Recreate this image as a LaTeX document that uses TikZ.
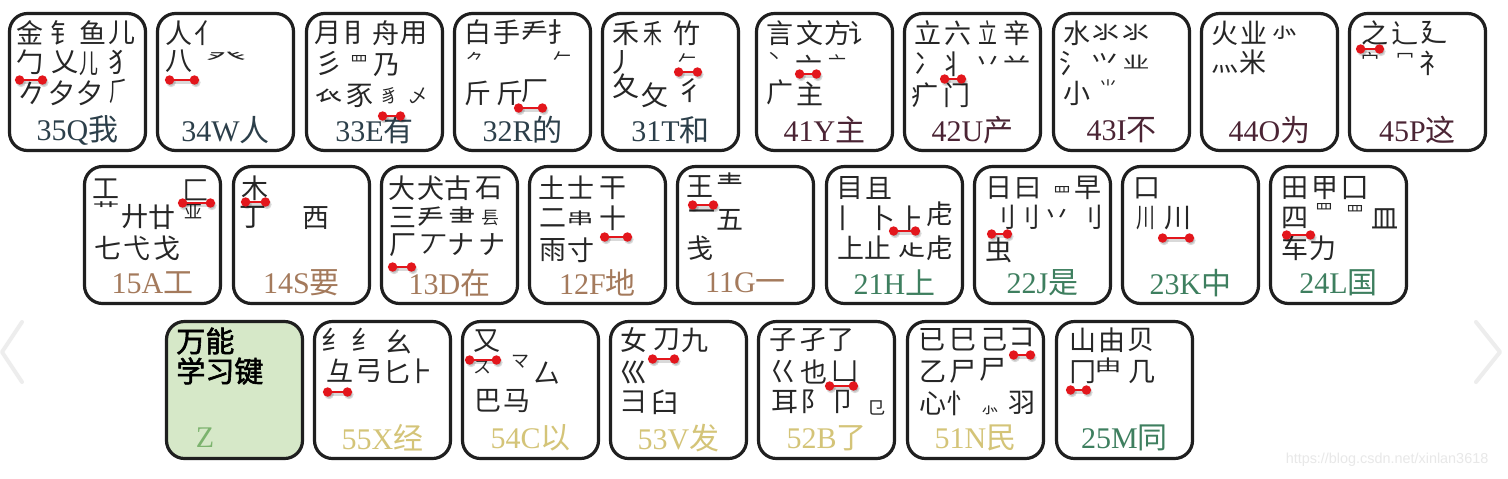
\documentclass[tikz,border=0pt]{standalone}
\usepackage{fontspec}
\usetikzlibrary{arrows.meta}
\newfontfamily\cjk{Noto Sans CJK SC}
\newfontfamily\cjkbold{Noto Sans CJK SC}[FakeBold=2]
\newfontfamily\lbfont{Liberation Serif}
\newfontfamily\wmfont{Liberation Sans}
\definecolor{zone1}{HTML}{A47A5C}
\definecolor{zone2}{HTML}{3E7F5F}
\definecolor{zone3}{HTML}{2C3F4A}
\definecolor{zone4}{HTML}{4B2434}
\definecolor{zone5}{HTML}{D4C478}
\definecolor{zgreen}{HTML}{7CB36E}
\definecolor{zfill}{HTML}{D6E8C8}
\definecolor{hlred}{HTML}{E3161C}

\begin{document}
\begin{tikzpicture}[x=0.5pt,y=-0.5pt,
  keybox/.style={draw=black!88,line width=1.6pt,rounded corners=9pt,minimum width=68pt,minimum height=68.5pt,inner sep=0pt},
  keylab/.style={font=\lbfont\fontsize{15}{15}\selectfont,inner sep=0pt},
  rt/.style={font=\cjk\fontsize{13.5}{13.5}\selectfont,text=black!85,inner sep=0pt},
  rs/.style={rt,font=\cjk\fontsize{9}{9}\selectfont},
  rn/.style={rt,xscale=0.7},
  rf/.style={rt,yscale=0.6},
  rw/.style={rt,xscale=1.5,yscale=0.55},
  hlbar/.style={draw=hlred,line width=1.4pt,{Circle[length=4.6pt]}-{Circle[length=4.6pt]}},
  hlshadow/.style={hlbar,draw=black,opacity=0.15},
  chev/.style={draw=black!7,line width=2pt,line cap=round,line join=round}]
\fill[white] (0,0) rectangle (1508,478);
\useasboundingbox (0,0) rectangle (1508,478);
\draw[chev] (22,322) -- (2,352) -- (22,382);
\draw[chev] (1476,322) -- (1500,352) -- (1476,382);
\foreach \kx/\ky/\k/\n/\ch/\col in {8/12/Q/35/我/zone3,156/12/W/34/人/zone3,305/12/E/33/有/zone3,453/12/R/32/的/zone3,601/12/T/31/和/zone3,
  755/12/Y/41/主/zone4,903/12/U/42/产/zone4,1052/12/I/43/不/zone4,1200/12/O/44/为/zone4,1348/12/P/45/这/zone4,
  83/165/A/15/工/zone1,232/165/S/14/要/zone1,380/165/D/13/在/zone1,528/165/F/12/地/zone1,676/165/G/11/一/zone1,
  825/165/H/21/上/zone2,973/165/J/22/是/zone2,1121/165/K/23/中/zone2,1269/165/L/24/国/zone2,
  313/320/X/55/经/zone5,461/320/C/54/以/zone5,609/320/V/53/发/zone5,757/320/B/52/了/zone5,906/320/N/51/民/zone5,1055/320/M/25/同/zone2}{
  \node[keybox] (key\k) at (\kx+69.5,\ky+70) {};
  \node[keylab,text=\col] (lab\k) at (\kx+69.5,\ky+118) {\n\k{\cjk\ch}};
}
\node[keybox,fill=zfill] (keyZ) at (234.5,390) {};
\node[keylab,text=zgreen] (labZ) at (205,438) {Z};
\node[rt,font=\cjkbold\fontsize{14.5}{14.5}\selectfont,text=black,anchor=west] (zt1) at (176,341) {万能};
\node[rt,font=\cjkbold\fontsize{14.5}{14.5}\selectfont,text=black,anchor=west] (zt2) at (176,371) {学习键};
\foreach \gx/\gy/\g/\s [count=\i] in {30/33/金/rt,64/33/钅/rt,93/33/鱼/rt,122/33/儿/rt,
  30/62/勹/rt,65/62/乂/rt,89/64/儿/rn,122/62/犭/rt,32/93/𠂊/rt,62/93/夕/rt,90/93/夕/rt,119/91/⺁/rn,
  179/33/人/rt,208/33/亻/rt,179/61/八/rt,226/57/癶/rw,
  328/33/月/rt,357/33/⺝/rt,386/33/舟/rt,414/33/用/rt,329/63/彡/rt,359/62/罒/rs,387/65/乃/rt,
  329/96/𧘇/rt,360/96/豕/rt,389/96/豸/rs,418/96/乄/rs,
  478/32/白/rt,507/32/手/rt,535/32/龵/rt,561/32/扌/rt,475/60/⺈/rs,562/58/𠂉/rs,
  478/93/斤/rt,510/93/斤/rt,535/91/厂/rt,
  626/33/禾/rt,653/33/禾/rn,687/33/竹/rt,621/62/丿/rt,687/60/𠂉/rs,626/86/夂/rt,655/95/攵/rt,690/91/彳/rt,
  780/33/言/rt,810/33/文/rt,838/33/方/rt,862/33/讠/rt,774/58/丶/rs,809/66/亠/rt,837/62/亠/rs,780/92/广/rt,810/94/主/rt,
  928/33/立/rt,958/33/六/rt,988/33/立/rn,1017/33/辛/rt,928/64/冫/rt,953/64/丬/rt,988/64/丷/rt,1017/64/䒑/rt,
  925/95/疒/rt,957/95/门/rt,
  1077/33/水/rt,1106/33/氺/rt,1136/33/氺/rt,1073/64/氵/rt,1105/64/⺍/rt,1136/62/业/rf,1077/93/小/rt,1108/87/⺌/rs,
  1225/33/火/rt,1254/33/业/rt,1285/33/⺗/rt,1225/69/灬/rt,1253/62/米/rt,
  1375/33/之/rt,1405/33/辶/rt,1434/33/廴/rt,1370/60/宀/rs,1405/58/冖/rs,1433/63/礻/rt,
  106/189/工/rt,196/190/匚/rt,106/208/艹/rf,135/217/廾/rt,162/217/廿/rt,193/212/亚/rs,
  108/248/七/rt,137/248/弋/rt,167/248/戈/rt,
  255/188/木/rt,253/217/丁/rt,316/218/西/rt,
  402/188/大/rt,431/188/犬/rt,458/188/古/rt,489/188/石/rt,403/218/三/rt,431/218/龵/rt,462/218/⺻/rt,490/218/镸/rs,
  403/245/厂/rt,434/245/丆/rt,461/245/ナ/rt,492/245/ナ/rt,
  552/188/土/rt,581/188/士/rt,613/188/干/rt,553/218/二/rt,580/218/串/rf,613/218/十/rt,553/250/雨/rt,581/250/寸/rt,
  700/187/王/rt,730/184/龶/rt,702/216/一/rt,730/220/五/rt,700/248/戋/rt,
  850/188/目/rt,879/188/且/rt,843/218/丨/rt,882/218/卜/rt,912/218/⺊/rt,940/214/虍/rt,
  851/248/上/rt,878/248/止/rt,912/250/龰/rt,940/248/虍/rt,
  999/188/日/rt,1028/188/曰/rt,1062/193/罒/rs,1088/188/早/rt,1003/217/刂/rt,1027/217/刂/rt,1057/217/丷/rt,1090/217/刂/rt,
  999/250/虫/rt,
  1147/188/口/rt,1146/218/川/rn,1178/218/川/rt,
  1295/188/田/rt,1325/188/甲/rt,1355/188/囗/rt,1295/218/四/rt,1324/210/罒/rs,1355/212/罒/rs,1385/219/皿/rt,
  1295/248/车/rt,1323/248/力/rt,
  335/340/纟/rt,365/340/纟/rt,399/342/幺/rt,340/371/彑/rt,369/371/弓/rt,397/372/匕/rt,421/371/⺊/rt,
  487/341/又/rt,482/367/ス/rs,520/362/マ/rs,547/373/厶/rt,488/401/巴/rt,517/401/马/rt,
  634/340/女/rt,667/340/刀/rt,695/340/九/rt,634/372/巛/rt,634/402/彐/rt,665/402/臼/rt,
  783/340/子/rt,813/340/孑/rt,841/340/了/rt,783/372/巜/rt,814/372/也/rt,845/372/凵/rt,
  785/402/耳/rt,814/402/阝/rt,843/402/卩/rt,876/408/㔾/rs,
  932/340/已/rt,963/340/巳/rt,994/340/己/rt,1022/337/コ/rt,933/372/乙/rt,963/372/尸/rt,993/370/尸/rt,
  933/403/心/rt,960/403/忄/rt,990/410/⺗/rs,1022/403/羽/rt,
  1083/340/山/rt,1112/340/由/rt,1141/340/贝/rt,1083/372/冂/rt,1108/365/由/rf,1142/372/几/rt}{
  \node[\s] (rt\i) at (\gx,\gy) {\g};
}
\foreach \xa/\xb/\yy in {15/47/80,165/199/80,378/405/116,514/547/108,674/702/72,795/821/74,940/966/79,1356/1384/49,
  178/215/203,241/270/202,388/416/267,600/632/237,688/718/205,889/920/231,987/1012/234,1158/1194/238,1282/1315/235,
  323/352/392,465/501/360,648/679/359,825/858/386,1009/1035/355,1066/1091/390}{
  \draw[hlshadow] (\xa+1.5,\yy+2.5) -- (\xb+1.5,\yy+2.5);
  \draw[hlbar] (\xa,\yy) -- (\xb,\yy);
}
\node[font=\wmfont\fontsize{7.2}{7.2}\selectfont,text=black!9] (wm) at (1387,460) {https://blog.csdn.net/xinlan3618};
\end{tikzpicture}
\end{document}
